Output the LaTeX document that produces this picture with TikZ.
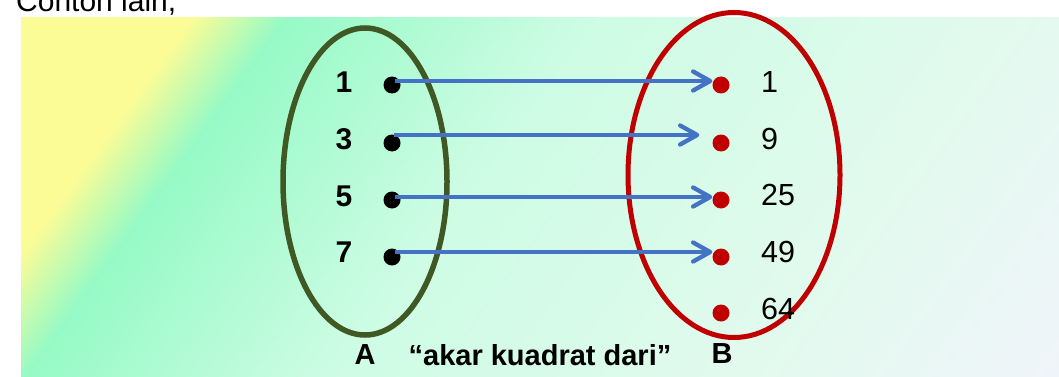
\documentclass[tikz,border=0pt]{standalone}
\usepackage{fontspec}
\setmainfont{Liberation Sans}
\usetikzlibrary{arrows.meta,shapes.geometric}
\definecolor{bgyel}{RGB}{252,252,150}
\definecolor{bggrn}{RGB}{150,250,198}
\definecolor{bgmint}{RGB}{205,252,228}
\definecolor{bgpale}{RGB}{226,250,238}
\definecolor{bgend}{RGB}{240,244,250}
\definecolor{setgreen}{RGB}{64,88,36}
\definecolor{setred}{RGB}{192,0,0}
\definecolor{arrblue}{RGB}{68,114,196}
\pgfdeclarehorizontalshading{bgshade}{100bp}{color(0bp)=(bgyel); color(31.7bp)=(bgyel); color(35.3bp)=(bggrn); color(46.8bp)=(bgmint); color(62.9bp)=(bgpale); color(75bp)=(bgend); color(100bp)=(bgend)}
\begin{document}
\begin{tikzpicture}[x=1pt,y=-1pt,
  setA/.style={ellipse, draw=setgreen, line width=5.5pt, minimum width=164pt, minimum height=307pt, inner sep=0pt},
  setB/.style={ellipse, draw=setred, line width=5pt, minimum width=212pt, minimum height=325pt, inner sep=0pt},
  dotA/.style={circle, fill=black, minimum size=17pt, inner sep=0pt},
  dotB/.style={circle, fill=setred, minimum size=17pt, inner sep=0pt},
  lblA/.style={font=\fontsize{30}{36}\selectfont\bfseries, inner sep=0pt},
  lblB/.style={font=\fontsize{30.5}{36}\selectfont, inner sep=0pt, anchor=west},
  lblbot/.style={font=\fontsize{29}{34}\selectfont\bfseries, inner sep=0pt},
  arr/.style={draw=arrblue, line width=4.3pt, -{Straight Barb[round,length=17pt,width=19pt]}}
]
\useasboundingbox (0,0) rectangle (1059,377);
\fill[white] (0,0) rectangle (1059,377);
% background gradient
\begin{scope}
\clip (21,18) rectangle (1059,377);
\begin{scope}[transform canvas={rotate around={-36:(540,197.5)}}]
\shade[shading=bgshade] (10,-262.5) rectangle (1070,657.5);
\end{scope}
\end{scope}
% cut title
\node[anchor=base west, inner sep=0pt, font=\fontsize{30}{36}\selectfont] (title) at (16,12) {Contoh lain,};
% sets
\node[setA] (A) at (365,181.5) {};
\node[setB] (B) at (734,175) {};
% dots
\node[dotA] (a1) at (392,85) {};
\node[dotA] (a3) at (392,143) {};
\node[dotA] (a5) at (392,200) {};
\node[dotA] (a7) at (392,257) {};
\node[dotB] (b1) at (721,85) {};
\node[dotB] (b9) at (721,143) {};
\node[dotB] (b25) at (721,200) {};
\node[dotB] (b49) at (721,257) {};
\node[dotB] (b64) at (721,313) {};
% labels
\node[lblA] (la1) at (344,82) {1};
\node[lblA] (la3) at (344,139) {3};
\node[lblA] (la5) at (344,196) {5};
\node[lblA] (la7) at (344,252) {7};
\node[lblB] (lb1) at (761,82) {1};
\node[lblB] (lb9) at (761,139) {9};
\node[lblB] (lb25) at (761,195) {25};
\node[lblB] (lb49) at (761,252) {49};
\node[lblB] (lb64) at (761,308.5) {64};
% arrows
\draw[arr] ([xshift=3pt,yshift=4pt]a1.center) -- ([yshift=4pt]b1.west);
\draw[arr] ([xshift=2pt,yshift=8pt]a3.center) -- ([xshift=-13pt,yshift=8pt]b9.west);
\draw[arr] ([xshift=3pt,yshift=3pt]a5.center) -- ([yshift=3pt]b25.west);
\draw[arr] ([xshift=3pt,yshift=5pt]a7.center) -- ([yshift=5pt]b49.west);
% bottom labels
\node[lblbot] (nA) at (365,355) {A};
\node[lblbot] (rel) at (540,355) {“akar kuadrat dari”};
\node[lblbot] (nB) at (722,354) {B};
\end{tikzpicture}
\end{document}
